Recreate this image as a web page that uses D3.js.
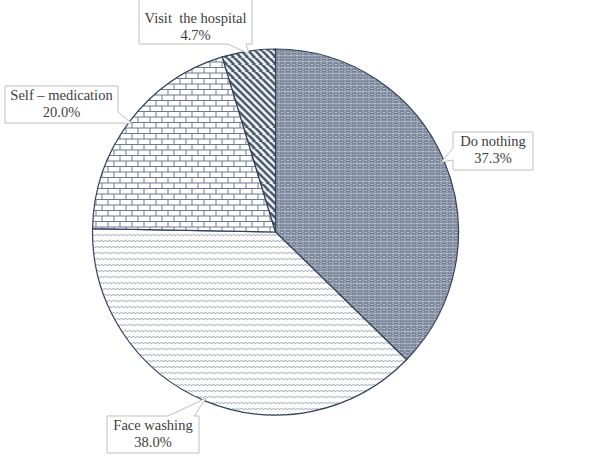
<!DOCTYPE html>
<html>
<head>
<meta charset="utf-8">
<script src="https://cdn.jsdelivr.net/npm/d3@7"></script>
<style>
  html, body { margin: 0; padding: 0; background: #fff; }
  svg { display: block; }
</style>
</head>
<body>
<script>
// データ
const categories = ["Do nothing", "Face washing", "Self \u2013 medication", "Visit  the hospital"];
const values = [37.3, 38.0, 20.0, 4.7];
const patternIds = ["pDots", "pWave", "pBrick", "pDiag"];

// ラベル枠の配置 (x, y, w, h, 1行目ベースライン, くさびの辺, くさびの根元)
const calloutLayout = [
  { x: 453, y: 132, w: 80, h: 38, base: 146, side: "left", b: [148, 160] },
  { x: 107, y: 416, w: 92, h: 37, base: 430, side: "top", b: [168, 194] },
  { x: 5, y: 86, w: 113, h: 37, base: 100, side: "right", b: [112, 123] },
  { x: 139, y: -5, w: 113, h: 49, base: 23, side: "bottom", b: [228, 246] }
];

const width = 603, height = 457;
const cx = 275.5, cy = 232, r = 183;
const ink = "#44546a";

const svg = d3.select("body").append("svg")
  .attr("width", width)
  .attr("height", height)
  .attr("viewBox", `0 0 ${width} ${height}`)
  .style("font-family", "'Liberation Serif', 'Times New Roman', serif");

svg.append("rect").attr("width", width).attr("height", height).attr("fill", "#fff");

// パターン定義
const defs = svg.append("defs");

// 点描
const dots = defs.append("pattern").attr("id", "pDots")
  .attr("patternUnits", "userSpaceOnUse").attr("width", 6).attr("height", 6);
dots.append("rect").attr("width", 6).attr("height", 6).attr("fill", "#8792a5");
[[0, 0], [3, 3], [1, 3], [3, 1], [5, 3], [3, 5]].forEach(([x, y], i) => {
  dots.append("rect").attr("x", x).attr("y", y).attr("width", 1).attr("height", 1)
    .attr("fill", i < 2 ? "#eef0f4" : "#b8bfcb");
});
[[1, 1], [5, 5], [1, 5], [5, 1]].forEach(([x, y]) => {
  dots.append("rect").attr("x", x).attr("y", y).attr("width", 1).attr("height", 1).attr("fill", "#5f6c82");
});

// 波線
const wave = defs.append("pattern").attr("id", "pWave")
  .attr("patternUnits", "userSpaceOnUse").attr("width", 8).attr("height", 6);
wave.append("rect").attr("width", 8).attr("height", 6).attr("fill", "#fff");
wave.append("path").attr("d", "M0,4 L2,2 L4,4 L6,2 L8,4")
  .attr("fill", "none").attr("stroke", "#9aa3b3").attr("stroke-width", 0.9);

// レンガ
const brick = defs.append("pattern").attr("id", "pBrick")
  .attr("patternUnits", "userSpaceOnUse").attr("width", 12).attr("height", 11);
brick.append("rect").attr("width", 12).attr("height", 11).attr("fill", "#fff");
brick.append("path").attr("d", "M0,0.5 H12 M0,6 H12 M0.5,0 V6 M6.5,6 V11")
  .attr("fill", "none").attr("stroke", "#6d7990").attr("stroke-width", 1);

// 斜線
const diag = defs.append("pattern").attr("id", "pDiag")
  .attr("patternUnits", "userSpaceOnUse").attr("width", 7).attr("height", 7);
diag.append("rect").attr("width", 7).attr("height", 7).attr("fill", "#fff");
diag.append("path").attr("d", "M-1,-1 L8,8 M-1,6 L1,8 M6,-1 L8,1")
  .attr("stroke", ink).attr("stroke-width", 2.6);

// 円グラフ
const pie = d3.pie().sort(null).value(d => d)(values);
const arc = d3.arc().innerRadius(0).outerRadius(r);
const rim = d3.arc().innerRadius(r - 3).outerRadius(r - 3);

const g = svg.append("g").attr("transform", `translate(${cx},${cy})`);
g.selectAll("path.slice").data(pie).join("path")
  .attr("class", "slice")
  .attr("d", arc)
  .attr("fill", (d, i) => `url(#${patternIds[i]})`)
  .attr("stroke", "#33425a")
  .attr("stroke-width", 1.2)
  .attr("stroke-linejoin", "round");

// 吹き出し
function calloutPath(c, tip) {
  const { x, y, w, h, side, b } = c;
  const pts = [[x, y]];
  if (side === "top") pts.push([b[0], y], tip, [b[1], y]);
  pts.push([x + w, y]);
  if (side === "right") pts.push([x + w, b[0]], tip, [x + w, b[1]]);
  pts.push([x + w, y + h]);
  if (side === "bottom") pts.push([b[1], y + h], tip, [b[0], y + h]);
  pts.push([x, y + h]);
  if (side === "left") pts.push([x, b[1]], tip, [x, b[0]]);
  return "M" + pts.map(p => p.join(",")).join("L") + "Z";
}

const pct = d3.format(".1%");
const total = d3.sum(values);

pie.forEach((d, i) => {
  const c = calloutLayout[i];
  const t = rim.centroid(d);
  const tip = [t[0] + cx, t[1] + cy];
  svg.append("path")
    .attr("d", calloutPath(c, tip))
    .attr("fill", "#fff")
    .attr("stroke", "#bfbfbf")
    .attr("stroke-width", 1);

  const txt = svg.append("text")
    .attr("text-anchor", "middle")
    .attr("font-size", "14.5px")
    .attr("fill", "#404040")
    .style("white-space", "pre");
  txt.append("tspan").attr("x", c.x + c.w / 2).attr("y", c.base).text(categories[i]);
  txt.append("tspan").attr("x", c.x + c.w / 2).attr("y", c.base + 17).text(pct(values[i] / total));
});
</script>
</body>
</html>
